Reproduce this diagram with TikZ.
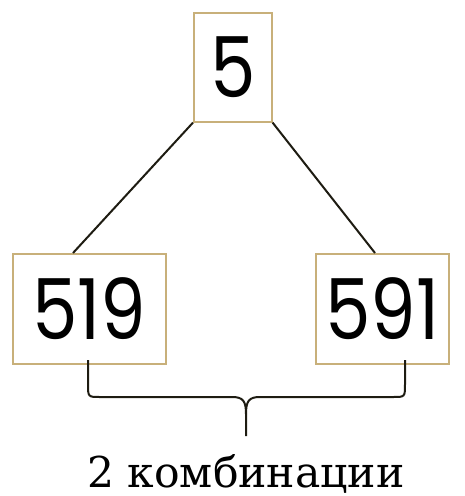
\documentclass[tikz,border=0pt]{standalone}
\usepackage{fontspec}
\setmainfont{DejaVu Serif}
\newfontfamily\numfont{Poppins}
\definecolor{boxc}{RGB}{200,176,122}
\definecolor{linec}{RGB}{30,28,18}
\begin{document}
\begin{tikzpicture}[x=1pt,y=-1pt,
  numbox/.style={draw=boxc,line width=1.6pt,fill=white,inner sep=0pt,anchor=north west},
  conn/.style={draw=linec,line width=2pt},
  numtext/.style={font=\numfont\fontsize{84}{84}\selectfont,text=black,xscale=0.86}]
\useasboundingbox (0,0) rectangle (464,496);
\node[numbox,minimum width=78pt,minimum height=109pt] (top) at (193,12) {};
\node[numbox,minimum width=153pt,minimum height=110pt] (left) at (12,253) {};
\node[numbox,minimum width=133pt,minimum height=110pt] (right) at (315,253) {};
\node[numtext] (t5) at (top.center) {5};
\node[numtext] (t519) at (left.center) {519};
\node[numtext] (t591) at (right.center) {591};
\draw[conn] (top.south west) -- (73,253);
\draw[conn] (top.south east) -- (375,253);
\coordinate (bl) at (88,360);
\coordinate (br) at (405,360);
\coordinate (bt) at (246,436);
\draw[conn] (bl) -- (88,384) .. controls (88,397) .. (100,397) -- (232,397) .. controls (243,397) and (246,401) .. (246,414) -- (bt);
\draw[conn] (br) -- (405,384) .. controls (405,397) .. (393,397) -- (260,397) .. controls (249,397) and (246,401) .. (246,414);
\node[font=\fontsize{42.5}{42.5}\selectfont,anchor=base] (lab) at (246,487) {2 комбинации};
\end{tikzpicture}
\end{document}
